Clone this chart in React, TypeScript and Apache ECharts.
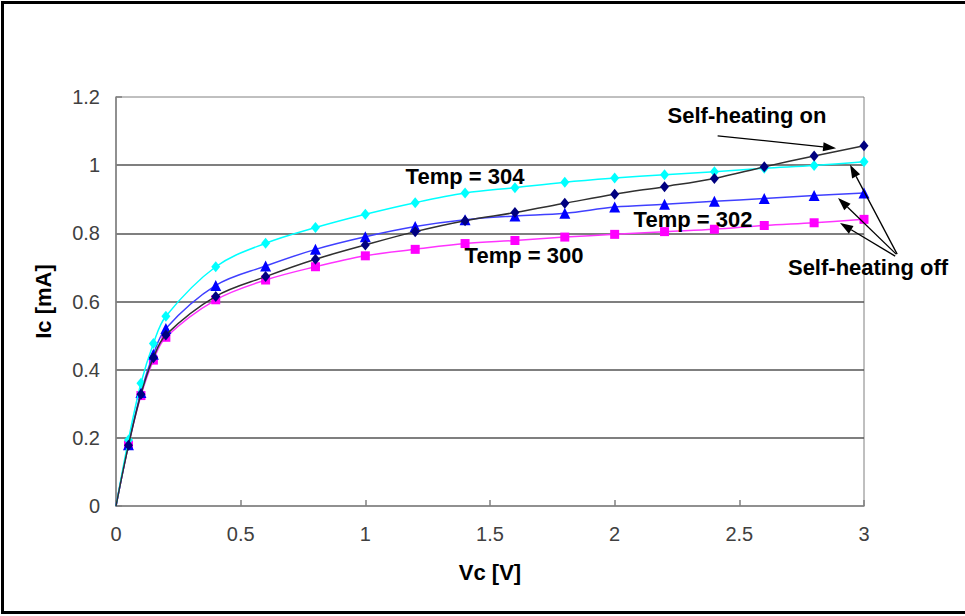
import React, { useEffect, useRef } from "react";
import * as echarts from "echarts";

// Shared collector-voltage samples (V)
const vc = [0, 0.05, 0.1, 0.15, 0.2, 0.4, 0.6, 0.8, 1.0, 1.2, 1.4, 1.6, 1.8, 2.0, 2.2, 2.4, 2.6, 2.8, 3.0];

// Collector current (mA), self-heating off
const ic304 = [0, 0.194, 0.36, 0.477, 0.557, 0.702, 0.771, 0.817, 0.856, 0.89, 0.918, 0.934, 0.95, 0.962, 0.972, 0.981, 0.991, 0.999, 1.01];
const ic302 = [0, 0.18, 0.333, 0.445, 0.521, 0.647, 0.704, 0.753, 0.79, 0.82, 0.84, 0.851, 0.859, 0.877, 0.885, 0.894, 0.902, 0.911, 0.918];
const ic300 = [0, 0.179, 0.324, 0.428, 0.495, 0.605, 0.663, 0.702, 0.734, 0.753, 0.77, 0.779, 0.789, 0.797, 0.805, 0.812, 0.823, 0.831, 0.841];
// Collector current (mA), self-heating on
const icSelfOn = [0, 0.178, 0.328, 0.435, 0.502, 0.615, 0.673, 0.724, 0.766, 0.805, 0.837, 0.861, 0.888, 0.915, 0.937, 0.961, 0.995, 1.027, 1.057];

const xTickLabels = ["0", "0.5", "1", "1.5", "2", "2.5", "3"];
const yTickLabels = ["0", "0.2", "0.4", "0.6", "0.8", "1", "1.2"];

// Annotation arrows in data coordinates [Vc, Ic]
const arrowFrom = [[2.413, 1.086], [3.133, 0.739], [3.129, 0.739], [3.125, 0.733]];
const arrowTo = [[2.888, 1.05], [2.944, 1.001], [2.896, 0.904], [2.904, 0.83]];

const FONT = '"Liberation Sans", Arial, sans-serif';

function makeSeries(name: string, ys: number[], color: string, lineColor: string, symbol: string, size: any, z: number) {
  return {
    type: "line",
    name,
    data: vc.map((x, i) => (i === 0 ? { value: [x, ys[i]], symbol: "none" } : [x, ys[i]])),
    smooth: 0.35,
    symbol,
    symbolSize: size,
    showAllSymbol: true,
    lineStyle: { color: lineColor, width: 1.5 },
    itemStyle: { color, borderWidth: 0 },
    z,
  };
}

export default function App() {
  const ref = useRef<HTMLDivElement>(null);
  useEffect(() => {
    if (!ref.current) return;
    const chart = echarts.init(ref.current, null, { renderer: "svg" });
    const textStyle = (text: string, x: number, y: number) => ({
      type: "text",
      x,
      y,
      style: { text, font: `bold 22px ${FONT}`, fill: "#000", align: "center", verticalAlign: "middle" },
      z: 100,
    });
    chart.setOption({
      animation: false,
      backgroundColor: "#fff",
      grid: {
        left: 116,
        right: 101,
        top: 97,
        bottom: 110,
        show: true,
        backgroundColor: "#fff",
        borderColor: "#808080",
        borderWidth: 1,
      },
      xAxis: {
        type: "value",
        min: 0,
        max: 3,
        interval: 0.5,
        name: "Vc [V]",
        nameLocation: "middle",
        nameGap: 55,
        nameTextStyle: { fontFamily: FONT, fontSize: 22, fontWeight: "bold", color: "#000" },
        axisLine: { show: true, lineStyle: { color: "#808080", width: 1.5 } },
        axisTick: { show: true, inside: true, length: 6, lineStyle: { color: "#808080", width: 1.5 } },
        axisLabel: {
          fontFamily: FONT,
          fontSize: 20,
          color: "#404040",
          margin: 18,
          formatter: (v: number) => xTickLabels[Math.round(v / 0.5)] ?? "",
        },
        splitLine: { show: false },
      },
      yAxis: {
        type: "value",
        min: 0,
        max: 1.2,
        interval: 0.2,
        name: "Ic [mA]",
        nameLocation: "middle",
        nameRotate: 90,
        nameGap: 62,
        nameTextStyle: { fontFamily: FONT, fontSize: 22, fontWeight: "bold", color: "#000" },
        axisLine: { show: true, lineStyle: { color: "#808080", width: 1.5 } },
        axisTick: { show: true, inside: true, length: 6, lineStyle: { color: "#808080", width: 1.5 } },
        axisLabel: {
          fontFamily: FONT,
          fontSize: 20,
          color: "#404040",
          margin: 16,
          formatter: (v: number) => yTickLabels[Math.round(v / 0.2)] ?? "",
        },
        splitLine: { show: true, showMinLine: false, showMaxLine: false, lineStyle: { color: "#555", width: 1.5 } },
      },
      series: [
        makeSeries("Temp = 300", ic300, "#FF00FF", "#FF33FF", "rect", 9, 3),
        makeSeries("Temp = 302", ic302, "#0000FF", "#4040FF", "triangle", 11, 4),
        makeSeries("Temp = 304", ic304, "#00FFFF", "#00FFFF", "diamond", [9, 11], 5),
        makeSeries("Self-heating on", icSelfOn, "#000080", "#303030", "diamond", [9, 11], 6),
      ],
    });

    const arrowGraphics: any[] = [];
    for (let i = 0; i < arrowFrom.length; i++) {
      const p0 = chart.convertToPixel({ gridIndex: 0 }, arrowFrom[i]) as number[];
      const p1 = chart.convertToPixel({ gridIndex: 0 }, arrowTo[i]) as number[];
      const dx = p1[0] - p0[0];
      const dy = p1[1] - p0[1];
      const len = Math.sqrt(dx * dx + dy * dy);
      const ux = dx / len;
      const uy = dy / len;
      const headL = 13;
      const headW = 4.5;
      const bx = p1[0] - ux * headL;
      const by = p1[1] - uy * headL;
      arrowGraphics.push({
        type: "line",
        shape: { x1: p0[0], y1: p0[1], x2: bx, y2: by },
        style: { stroke: "#000", lineWidth: 1.3 },
        z: 100,
      });
      arrowGraphics.push({
        type: "polygon",
        shape: {
          points: [
            [p1[0], p1[1]],
            [bx - uy * headW, by + ux * headW],
            [bx + uy * headW, by - ux * headW],
          ],
        },
        style: { fill: "#000" },
        z: 100,
      });
    }

    chart.setOption({
      graphic: [
        {
          type: "rect",
          shape: { x: 2.5, y: 2.5, width: 1100, height: 610 },
          style: { fill: "none", stroke: "#000", lineWidth: 3 },
          z: 100,
        },
        textStyle("Temp = 304", 465, 176),
        textStyle("Temp = 302", 693, 219),
        textStyle("Temp = 300", 524, 255),
        textStyle("Self-heating on", 747, 115),
        textStyle("Self-heating off", 868, 267),
        ...arrowGraphics,
      ],
    });
    return () => chart.dispose();
  }, []);
  return (
    <div
      ref={ref}
      style={{ position: "fixed", left: 0, top: 0, width: 965, height: 616, background: "#fff" }}
    />
  );
}
